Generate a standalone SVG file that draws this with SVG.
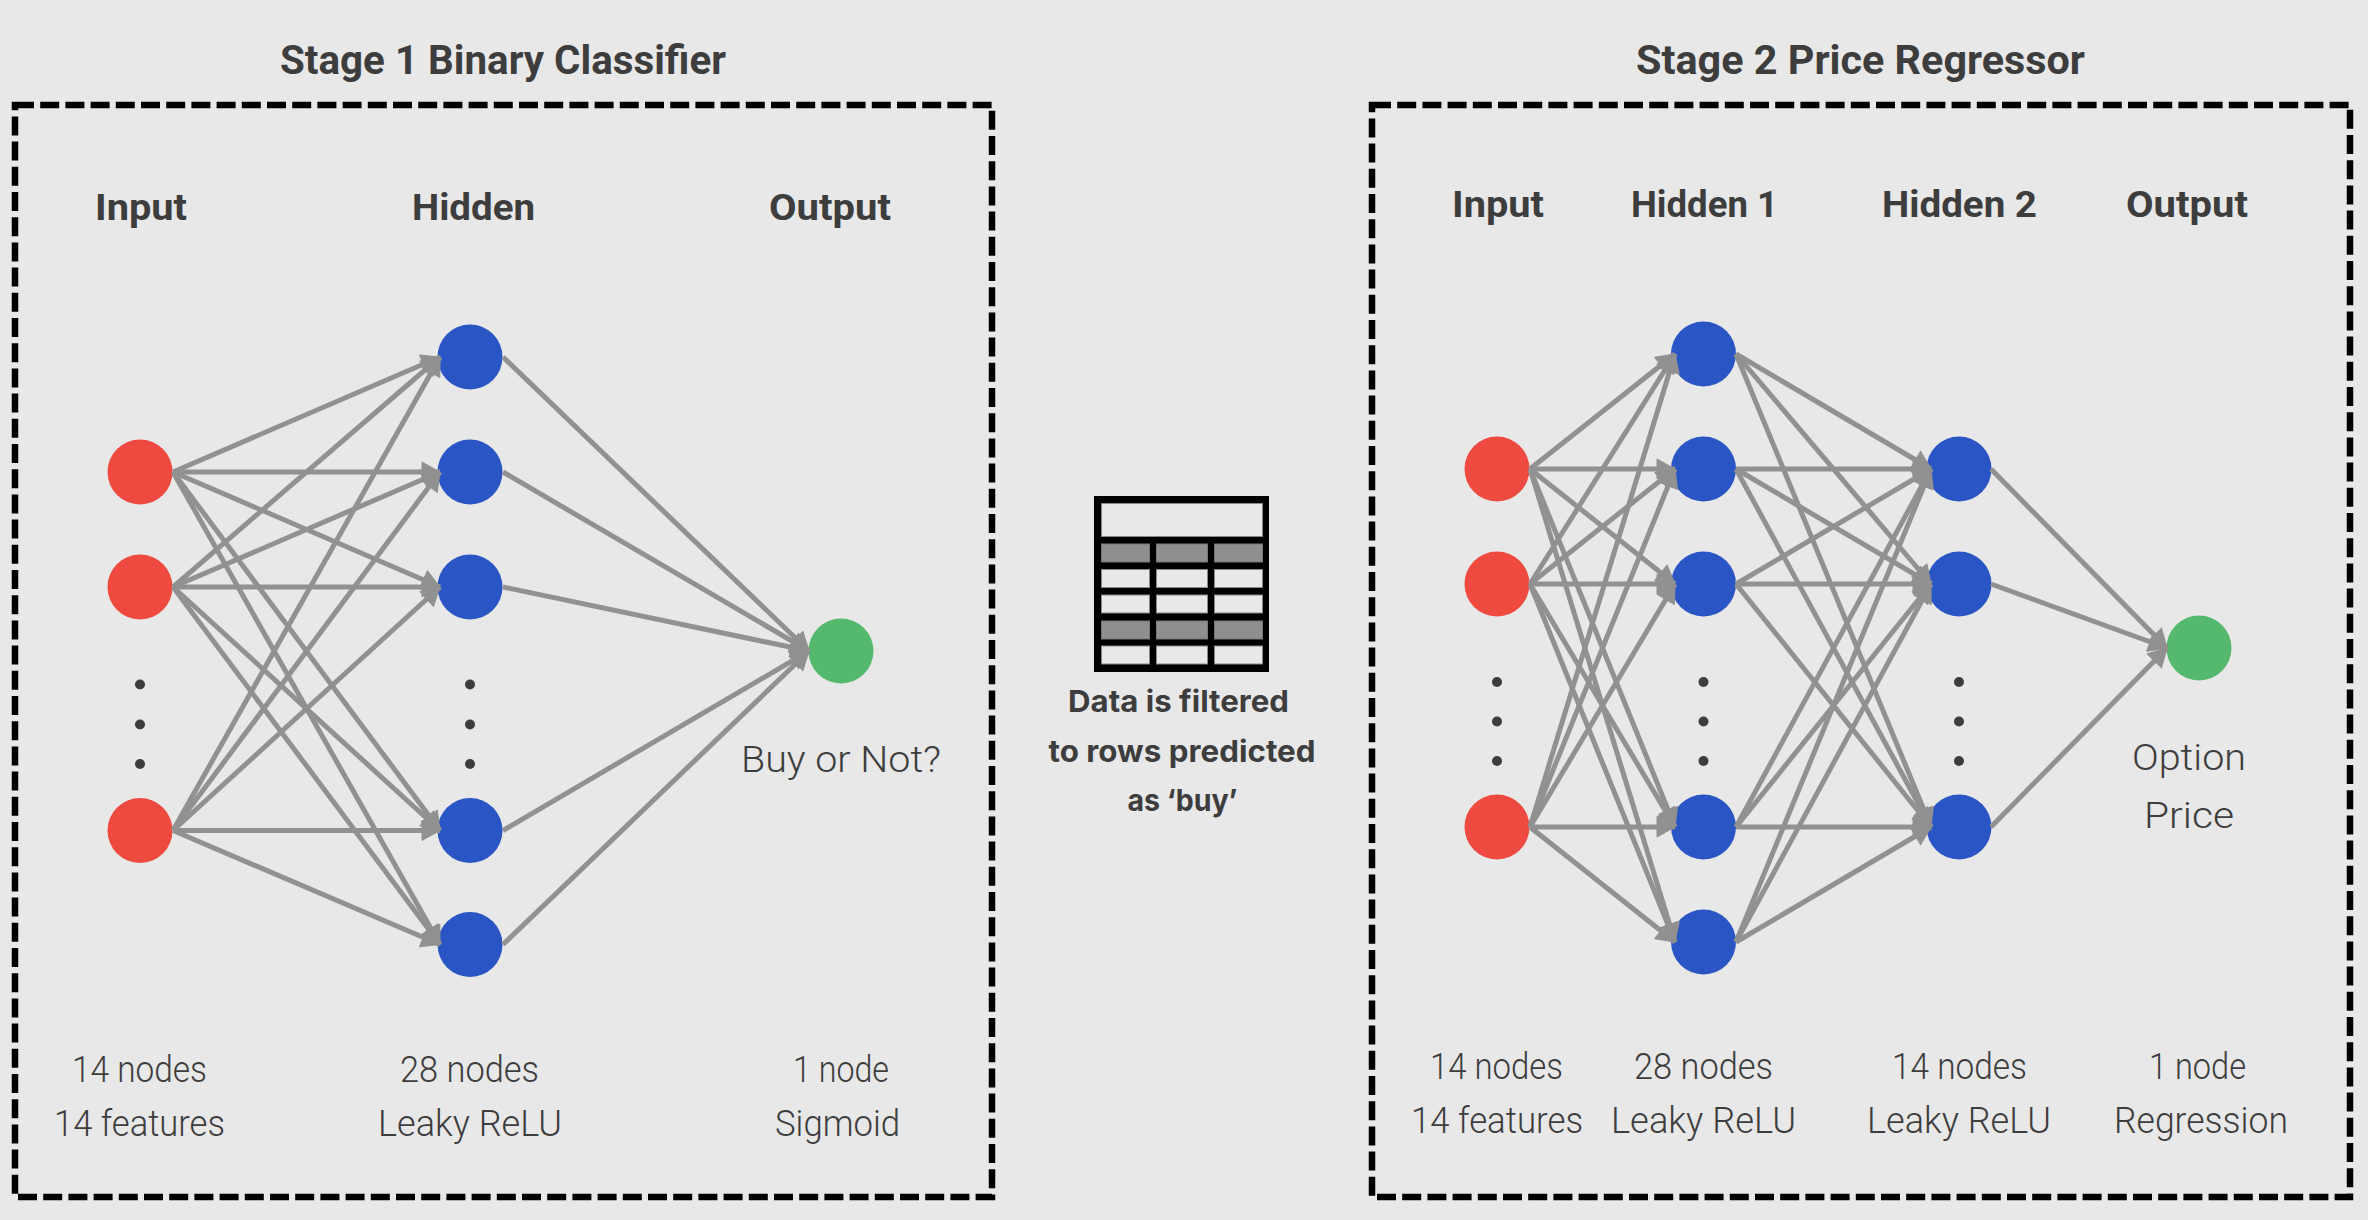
<svg xmlns="http://www.w3.org/2000/svg" width="2368" height="1220" viewBox="0 0 2368 1220">
<defs>
<marker id="ah" markerUnits="userSpaceOnUse" markerWidth="26" markerHeight="26" refX="20" refY="13" orient="auto"><path d="M2 3L20 13L2 23Z" fill="#919191" stroke="#919191" stroke-width="1" stroke-linejoin="round"/></marker>
</defs>
<style>
.frame{fill:none;stroke:#000;stroke-width:6.500;stroke-dasharray:19 6.200}
.c line{stroke:#919191;stroke-width:5;marker-end:url(#ah)}
.r{fill:#ee4a3f}.b{fill:#2a55c4}.g{fill:#55b96d}.d{fill:#3d3d3d}
text{fill:#3d3d3d;font-family:"Roboto","Liberation Sans",sans-serif}
.t{font-size:40px;font-weight:700}
.h{font-size:37px;font-weight:700}
.l{font-size:36px;font-weight:300}
.n{font-family:"Inter","Liberation Sans",sans-serif;font-size:30.500px;font-weight:700}
.cell{fill:#e8e8e8;stroke:#888;stroke-width:1}
.dark{fill:#8f8f8f;stroke:#777;stroke-width:1}
</style>
<rect width="2368" height="1220" fill="#e8e8e8"/>
<rect class="frame" x="15" y="105" width="977" height="1092"/>
<rect class="frame" x="1372" y="105" width="978" height="1092"/>
<g id="nodes-stage-1">
<g id="s1-in1"><circle class="r" cx="140" cy="472" r="32.5"/></g>
<g id="s1-in2"><circle class="r" cx="140" cy="587" r="32.5"/></g>
<g id="s1-in3"><circle class="r" cx="140" cy="830.500" r="32.5"/></g>
<g id="s1-h1"><circle class="b" cx="470" cy="357" r="32.5"/></g>
<g id="s1-h2"><circle class="b" cx="470" cy="472" r="32.5"/></g>
<g id="s1-h3"><circle class="b" cx="470" cy="587" r="32.5"/></g>
<g id="s1-h4"><circle class="b" cx="470" cy="830.500" r="32.5"/></g>
<g id="s1-h5"><circle class="b" cx="470" cy="944.500" r="32.5"/></g>
<g id="s1-out"><circle class="g" cx="841" cy="651" r="32.5"/></g>
</g>
<g id="nodes-stage-2">
<g id="s2-in1"><circle class="r" cx="1497" cy="469" r="32.5"/></g>
<g id="s2-in2"><circle class="r" cx="1497" cy="584" r="32.5"/></g>
<g id="s2-in3"><circle class="r" cx="1497" cy="827" r="32.5"/></g>
<g id="s2-a1"><circle class="b" cx="1703.500" cy="354" r="32.5"/></g>
<g id="s2-a2"><circle class="b" cx="1703.500" cy="469" r="32.5"/></g>
<g id="s2-a3"><circle class="b" cx="1703.500" cy="584" r="32.5"/></g>
<g id="s2-a4"><circle class="b" cx="1703.500" cy="827" r="32.5"/></g>
<g id="s2-a5"><circle class="b" cx="1703.500" cy="942" r="32.5"/></g>
<g id="s2-b1"><circle class="b" cx="1959" cy="469" r="32.5"/></g>
<g id="s2-b2"><circle class="b" cx="1959" cy="584" r="32.5"/></g>
<g id="s2-b3"><circle class="b" cx="1959" cy="827" r="32.5"/></g>
<g id="s2-out"><circle class="g" cx="2199" cy="648" r="32.5"/></g>
</g>
<g id="connectors" class="c">
<line x1="173" y1="472" x2="440" y2="357"/><line x1="173" y1="472" x2="440" y2="472"/><line x1="173" y1="472" x2="440" y2="587"/><line x1="173" y1="472" x2="440" y2="830.500"/><line x1="173" y1="472" x2="440" y2="944.500"/>
<line x1="173" y1="587" x2="440" y2="357"/><line x1="173" y1="587" x2="440" y2="472"/><line x1="173" y1="587" x2="440" y2="587"/><line x1="173" y1="587" x2="440" y2="830.500"/><line x1="173" y1="587" x2="440" y2="944.500"/>
<line x1="173" y1="830.500" x2="440" y2="357"/><line x1="173" y1="830.500" x2="440" y2="472"/><line x1="173" y1="830.500" x2="440" y2="587"/><line x1="173" y1="830.500" x2="440" y2="830.500"/><line x1="173" y1="830.500" x2="440" y2="944.500"/>
<line x1="503" y1="357" x2="809" y2="651"/><line x1="503" y1="472" x2="809" y2="651"/><line x1="503" y1="587" x2="809" y2="651"/><line x1="503" y1="830.500" x2="809" y2="651"/><line x1="503" y1="944.500" x2="809" y2="651"/>
<line x1="1530" y1="469" x2="1675" y2="354"/><line x1="1530" y1="469" x2="1675" y2="469"/><line x1="1530" y1="469" x2="1675" y2="584"/><line x1="1530" y1="469" x2="1675" y2="827"/><line x1="1530" y1="469" x2="1675" y2="942"/>
<line x1="1530" y1="584" x2="1675" y2="354"/><line x1="1530" y1="584" x2="1675" y2="469"/><line x1="1530" y1="584" x2="1675" y2="584"/><line x1="1530" y1="584" x2="1675" y2="827"/><line x1="1530" y1="584" x2="1675" y2="942"/>
<line x1="1530" y1="827" x2="1675" y2="354"/><line x1="1530" y1="827" x2="1675" y2="469"/><line x1="1530" y1="827" x2="1675" y2="584"/><line x1="1530" y1="827" x2="1675" y2="827"/><line x1="1530" y1="827" x2="1675" y2="942"/>
<line x1="1736" y1="354" x2="1931" y2="469"/><line x1="1736" y1="354" x2="1931" y2="584"/><line x1="1736" y1="354" x2="1931" y2="827"/>
<line x1="1736" y1="469" x2="1931" y2="469"/><line x1="1736" y1="469" x2="1931" y2="584"/><line x1="1736" y1="469" x2="1931" y2="827"/>
<line x1="1736" y1="584" x2="1931" y2="469"/><line x1="1736" y1="584" x2="1931" y2="584"/><line x1="1736" y1="584" x2="1931" y2="827"/>
<line x1="1736" y1="827" x2="1931" y2="469"/><line x1="1736" y1="827" x2="1931" y2="584"/><line x1="1736" y1="827" x2="1931" y2="827"/>
<line x1="1736" y1="942" x2="1931" y2="469"/><line x1="1736" y1="942" x2="1931" y2="584"/><line x1="1736" y1="942" x2="1931" y2="827"/>
<line x1="1991" y1="469" x2="2167" y2="648"/><line x1="1991" y1="584" x2="2167" y2="648"/><line x1="1991" y1="827" x2="2167" y2="648"/>
</g>
<g id="ellipsis">
<circle class="d" cx="140" cy="684.500" r="5"/><circle class="d" cx="140" cy="724.500" r="5"/><circle class="d" cx="140" cy="764" r="5"/>
<circle class="d" cx="470" cy="684.500" r="5"/><circle class="d" cx="470" cy="724.500" r="5"/><circle class="d" cx="470" cy="764" r="5"/>
<circle class="d" cx="1497" cy="682" r="5"/><circle class="d" cx="1497" cy="721.500" r="5"/><circle class="d" cx="1497" cy="761" r="5"/>
<circle class="d" cx="1703.500" cy="682" r="5"/><circle class="d" cx="1703.500" cy="721.500" r="5"/><circle class="d" cx="1703.500" cy="761" r="5"/>
<circle class="d" cx="1959" cy="682" r="5"/><circle class="d" cx="1959" cy="721.500" r="5"/><circle class="d" cx="1959" cy="761" r="5"/>
</g>
<g id="table">
<rect x="1094" y="496" width="175" height="176" fill="#000"/>
<rect class="cell" x="1101.500" y="503.500" width="161" height="33"/>
<rect class="dark" x="1101.500" y="544" width="48" height="18"/><rect class="dark" x="1156.500" y="544" width="51" height="18"/><rect class="dark" x="1214.500" y="544" width="48" height="18"/>
<rect class="cell" x="1101.500" y="569.500" width="48" height="18"/><rect class="cell" x="1156.500" y="569.500" width="51" height="18"/><rect class="cell" x="1214.500" y="569.500" width="48" height="18"/>
<rect class="cell" x="1101.500" y="595" width="48" height="18"/><rect class="cell" x="1156.500" y="595" width="51" height="18"/><rect class="cell" x="1214.500" y="595" width="48" height="18"/>
<rect class="dark" x="1101.500" y="621" width="48" height="18"/><rect class="dark" x="1156.500" y="621" width="51" height="18"/><rect class="dark" x="1214.500" y="621" width="48" height="18"/>
<rect class="cell" x="1101.500" y="646" width="48" height="18"/><rect class="cell" x="1156.500" y="646" width="51" height="18"/><rect class="cell" x="1214.500" y="646" width="48" height="18"/>
</g>
<g id="labels">
<text class="t" x="280" y="74" textLength="446" lengthAdjust="spacingAndGlyphs">Stage 1 Binary Classifier</text>
<text class="t" x="1636" y="74" textLength="449" lengthAdjust="spacingAndGlyphs">Stage 2 Price Regressor</text>
<text class="h" x="95" y="219.500" textLength="92" lengthAdjust="spacingAndGlyphs">Input</text>
<text class="h" x="412" y="219.500" textLength="123" lengthAdjust="spacingAndGlyphs">Hidden</text>
<text class="h" x="769" y="219.500" textLength="122" lengthAdjust="spacingAndGlyphs">Output</text>
<text class="h" x="1452" y="217" textLength="92" lengthAdjust="spacingAndGlyphs">Input</text>
<text class="h" x="1631" y="217" textLength="147" lengthAdjust="spacingAndGlyphs">Hidden 1</text>
<text class="h" x="1882" y="217" textLength="155" lengthAdjust="spacingAndGlyphs">Hidden 2</text>
<text class="h" x="2126" y="217" textLength="122" lengthAdjust="spacingAndGlyphs">Output</text>
<text class="l" x="741" y="772" textLength="200" lengthAdjust="spacingAndGlyphs">Buy or Not?</text>
<text class="l" x="2132" y="770" textLength="114" lengthAdjust="spacingAndGlyphs">Option</text>
<text class="l" x="2144" y="828" textLength="90" lengthAdjust="spacingAndGlyphs">Price</text>
<text class="l" x="72" y="1082" textLength="135" lengthAdjust="spacingAndGlyphs">14 nodes</text>
<text class="l" x="54" y="1136" textLength="171" lengthAdjust="spacingAndGlyphs">14 features</text>
<text class="l" x="400" y="1082" textLength="139" lengthAdjust="spacingAndGlyphs">28 nodes</text>
<text class="l" x="378" y="1136" textLength="184" lengthAdjust="spacingAndGlyphs">Leaky ReLU</text>
<text class="l" x="793" y="1082" textLength="96" lengthAdjust="spacingAndGlyphs">1 node</text>
<text class="l" x="775" y="1136" textLength="125" lengthAdjust="spacingAndGlyphs">Sigmoid</text>
<text class="l" x="1430" y="1079" textLength="133" lengthAdjust="spacingAndGlyphs">14 nodes</text>
<text class="l" x="1411" y="1133" textLength="172" lengthAdjust="spacingAndGlyphs">14 features</text>
<text class="l" x="1634" y="1079" textLength="139" lengthAdjust="spacingAndGlyphs">28 nodes</text>
<text class="l" x="1611" y="1133" textLength="185" lengthAdjust="spacingAndGlyphs">Leaky ReLU</text>
<text class="l" x="1892" y="1079" textLength="135" lengthAdjust="spacingAndGlyphs">14 nodes</text>
<text class="l" x="1867" y="1133" textLength="184" lengthAdjust="spacingAndGlyphs">Leaky ReLU</text>
<text class="l" x="2149" y="1079" textLength="97" lengthAdjust="spacingAndGlyphs">1 node</text>
<text class="l" x="2114" y="1133" textLength="174" lengthAdjust="spacingAndGlyphs">Regression</text>
<text class="n" x="1068" y="712" textLength="221" lengthAdjust="spacingAndGlyphs">Data is filtered</text>
<text class="n" x="1048.500" y="762" textLength="267" lengthAdjust="spacingAndGlyphs">to rows predicted</text>
<text class="n" x="1127.500" y="811" textLength="110" lengthAdjust="spacingAndGlyphs">as ‘buy’</text>
</g>
</svg>
